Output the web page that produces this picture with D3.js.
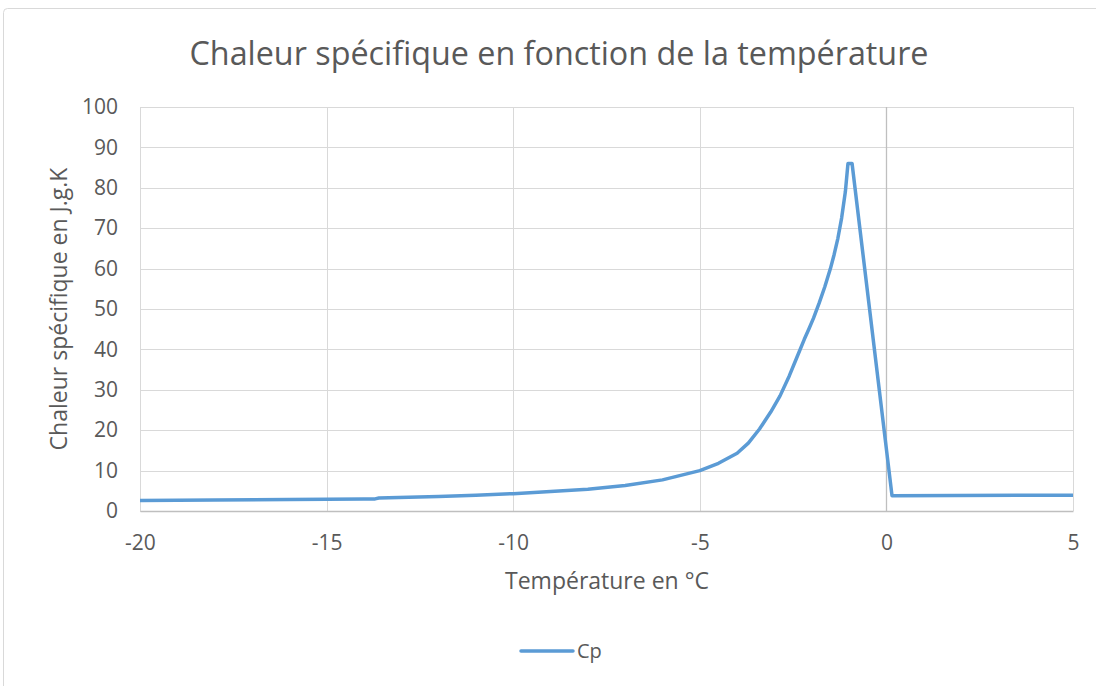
<!DOCTYPE html>
<html>
<head>
<meta charset="utf-8">
<script src="https://cdn.jsdelivr.net/npm/d3@7"></script>
<style>
  body { margin: 0; background: #fff; }
  svg { display: block; font-family: "Open Sans", "Noto Sans", sans-serif; }
</style>
</head>
<body>
<div id="chart"></div>
<script>
const WIDTH = 1096, HEIGHT = 686;
const MARGIN = { top: 107, right: 23, bottom: 175, left: 140 };
const INNER_WIDTH = WIDTH - MARGIN.left - MARGIN.right;
const INNER_HEIGHT = HEIGHT - MARGIN.top - MARGIN.bottom;

const COLOR_LINE = "#5b9bd5";
const COLOR_GRID = "#d9d9d9";
const COLOR_TEXT = "#595959";
const FONT = "'Open Sans', 'Noto Sans', sans-serif";

// Data
const temperature = [-20, -18, -16, -15, -14, -13.7, -13.6, -12, -11, -10, -9, -8, -7, -6, -5,
  -4.5, -4, -3.7, -3.4, -3.1, -2.85, -2.6, -2.4, -2.2, -2.08, -1.95, -1.8, -1.65, -1.5,
  -1.4, -1.3, -1.2, -1.1, -1.03, -0.92, 0.15, 5];
const cp = [2.6, 2.7, 2.85, 2.9, 3.0, 3.0, 3.2, 3.6, 3.9, 4.3, 4.8, 5.4, 6.3, 7.7, 10.0,
  11.8, 14.3, 16.8, 20.3, 24.5, 28.5, 33.5, 38, 42.5, 45, 47.8, 51.5, 55.5, 60,
  63.5, 67.5, 72.5, 79, 86, 86, 3.8, 3.9];

const xTicks = [-20, -15, -10, -5, 0, 5];
const yTicks = [0, 10, 20, 30, 40, 50, 60, 70, 80, 90, 100];

const data = temperature.map((t, i) => ({ t: t, cp: cp[i] }));

const root = d3.select("#chart").append("svg")
  .attr("width", WIDTH)
  .attr("height", HEIGHT);

// chart border
root.append("rect")
  .attr("x", 3.5).attr("y", 8.5)
  .attr("width", WIDTH + 20).attr("height", HEIGHT + 20)
  .attr("rx", 4)
  .attr("fill", "#fff")
  .attr("stroke", COLOR_GRID);

const svg = root.append("g")
  .attr("transform", `translate(${MARGIN.left},${MARGIN.top})`);

const x = d3.scaleLinear().domain([-20, 5]).range([0, INNER_WIDTH]);
const y = d3.scaleLinear().domain([0, 100]).range([INNER_HEIGHT, 0]);

// --- Gridlines ---
svg.append("g")
  .selectAll("line")
  .data(yTicks)
  .join("line")
  .attr("x1", 0).attr("x2", INNER_WIDTH)
  .attr("y1", d => Math.round(y(d)) + 0.5).attr("y2", d => Math.round(y(d)) + 0.5)
  .attr("stroke", COLOR_GRID);

svg.append("g")
  .selectAll("line")
  .data(xTicks.filter(d => d !== 0))
  .join("line")
  .attr("x1", d => Math.round(x(d)) + 0.5).attr("x2", d => Math.round(x(d)) + 0.5)
  .attr("y1", 0).attr("y2", INNER_HEIGHT)
  .attr("stroke", COLOR_GRID);

// --- Axes ---
const xAxis = svg.append("g")
  .attr("transform", `translate(0,${Math.round(INNER_HEIGHT)})`)
  .call(d3.axisBottom(x).tickValues(xTicks).tickFormat(d => String(d)).tickSize(0).tickPadding(24));
xAxis.select(".domain").attr("stroke", "#bfbfbf").attr("stroke-width", 1.3);
xAxis.selectAll("text")
  .attr("fill", COLOR_TEXT)
  .style("font-family", FONT)
  .style("font-size", "21px");

const yAxis = svg.append("g")
  .call(d3.axisLeft(y).tickValues(yTicks).tickFormat(d => String(d)).tickSize(0).tickPadding(22));
yAxis.select(".domain").remove();
yAxis.selectAll("text")
  .attr("fill", COLOR_TEXT)
  .style("font-family", FONT)
  .style("font-size", "21px");

// vertical axis line at 0
svg.append("line")
  .attr("x1", Math.round(x(0)) + 0.5).attr("x2", Math.round(x(0)) + 0.5)
  .attr("y1", 0).attr("y2", INNER_HEIGHT)
  .attr("stroke", "#bfbfbf")
  .attr("stroke-width", 1.3);

// --- Line ---
const line = d3.line()
  .x(d => x(d.t))
  .y(d => y(d.cp));

svg.append("path")
  .datum(data)
  .attr("fill", "none")
  .attr("stroke", COLOR_LINE)
  .attr("stroke-width", 3.5)
  .attr("stroke-linejoin", "round")
  .attr("d", line);

// --- Title ---
root.append("text")
  .attr("x", 559)
  .attr("y", 65)
  .attr("text-anchor", "middle")
  .attr("fill", COLOR_TEXT)
  .style("font-size", "32.3px")
  .text("Chaleur spécifique en fonction de la température");

// --- Axis Labels ---
root.append("text")
  .attr("transform", "translate(67,309) rotate(-90)")
  .attr("text-anchor", "middle")
  .attr("fill", COLOR_TEXT)
  .style("font-size", "23px")
  .text("Chaleur spécifique en J.g.K");

root.append("text")
  .attr("x", 607)
  .attr("y", 589)
  .attr("text-anchor", "middle")
  .attr("fill", COLOR_TEXT)
  .style("font-size", "23px")
  .text("Température en °C");

// --- Legend ---
const legend = root.append("g").attr("transform", "translate(521,651)");
legend.append("line")
  .attr("x1", 0).attr("x2", 52)
  .attr("stroke", COLOR_LINE)
  .attr("stroke-width", 3.5)
  .attr("stroke-linecap", "round");
legend.append("text")
  .attr("x", 56).attr("y", 7)
  .attr("fill", COLOR_TEXT)
  .style("font-size", "20px")
  .text("Cp");
</script>
</body>
</html>
